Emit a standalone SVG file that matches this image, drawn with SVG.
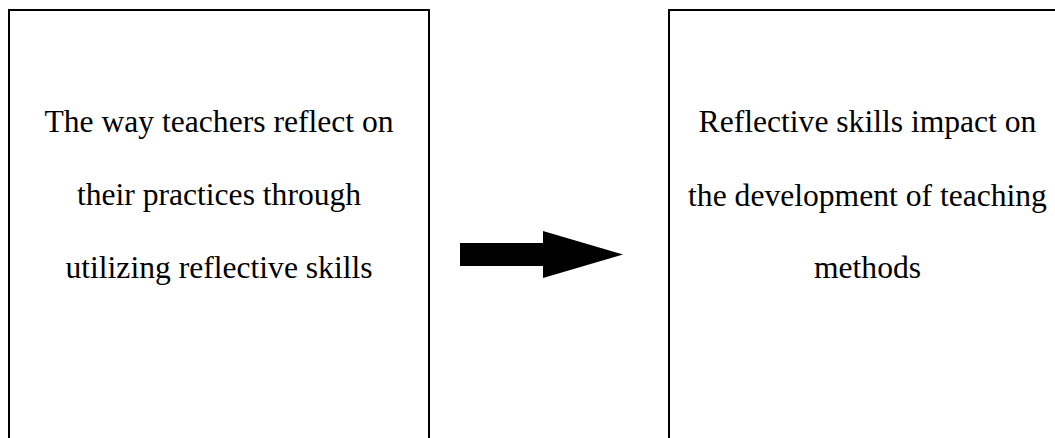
<svg xmlns="http://www.w3.org/2000/svg" width="1055" height="438" viewBox="0 0 1055 438">
  <style>
    .box { fill: #ffffff; stroke: #000000; stroke-width: 2; }
    .label { font-family: "Liberation Serif", "Times New Roman", serif; font-size: 31.6px; fill: #000000; text-anchor: middle; }
  </style>
  <rect width="1055" height="438" fill="#ffffff"/>

  <g id="node-reflection">
    <rect class="box" x="9" y="10" width="420" height="450"/>
    <text class="label" x="219" y="132">The way teachers reflect on</text>
    <text class="label" x="219" y="205">their practices through</text>
    <text class="label" x="219" y="278">utilizing reflective skills</text>
  </g>

  <g id="node-impact">
    <rect class="box" x="669" y="10" width="420" height="450"/>
    <text class="label" x="867.5" y="132">Reflective skills impact on</text>
    <text class="label" x="867.5" y="206">the development of teaching</text>
    <text class="label" x="867.5" y="278">methods</text>
  </g>

  <g id="connectors">
    <polygon points="460,243 543,243 543,231 623,254.5 543,278 543,266 460,266" fill="#000000"/>
  </g>
</svg>
